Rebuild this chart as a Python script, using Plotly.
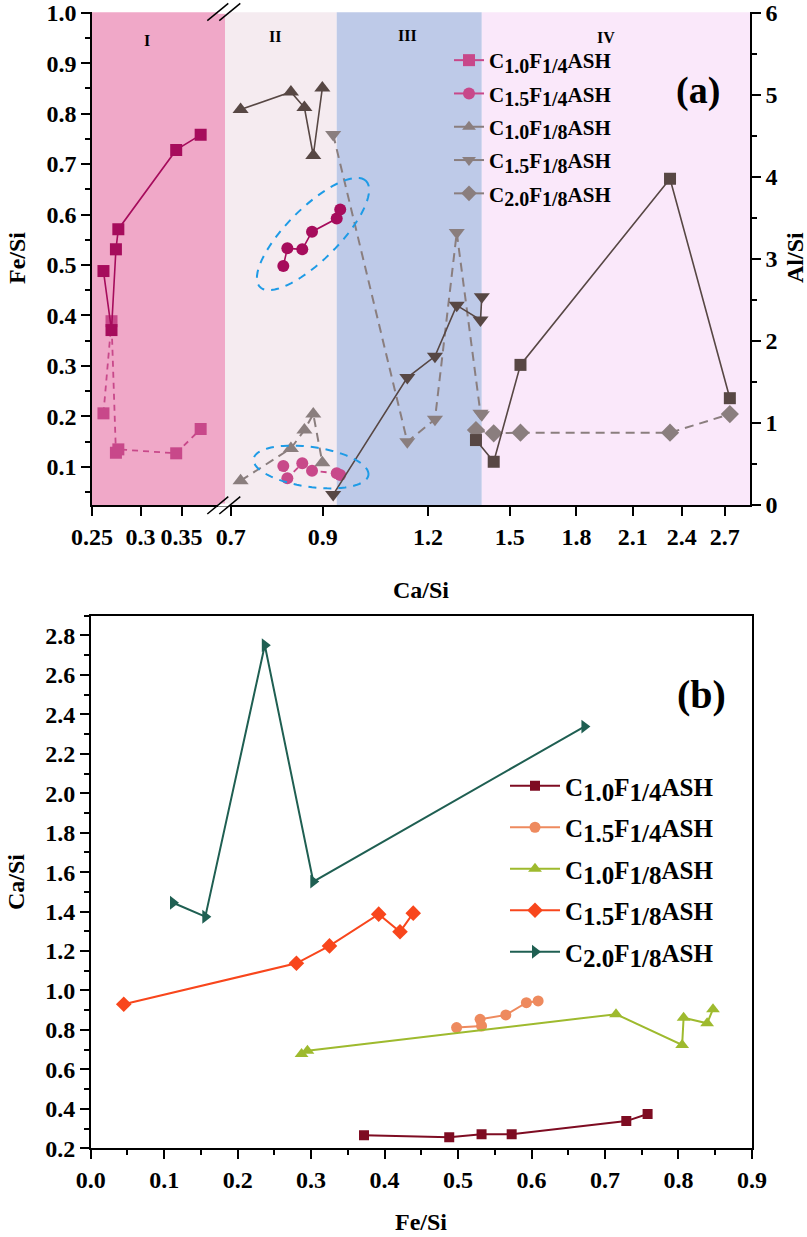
import numpy as np
import plotly.graph_objects as go

W, H = 807, 1237
def px(x): return x / W
def py(y): return 1 - y / H

# ---------------- Panel (a) data: x = Ca/Si, left y = Fe/Si, right y = Al/Si
ca_a1 = [0.261, 0.269, 0.2735, 0.276, 0.343, 0.376]          # C1.0F1/4ASH
fe_a1 = [0.488, 0.371, 0.531, 0.571, 0.728, 0.758]
al_a1 = [1.117, 2.24, 0.637, 0.678, 0.630, 0.926]

ca_a2 = [0.808, 0.817, 0.851, 0.874, 0.935, 0.944]           # C1.5F1/4ASH
fe_a2 = [0.498, 0.533, 0.531, 0.566, 0.592, 0.610]
al_a2 = [0.475, 0.325, 0.508, 0.418, 0.386, 0.365]

ca_a3 = [0.719, 0.825, 0.856, 0.877, 0.899]                  # C1.0F1/8ASH
fe_a3 = [0.808, 0.843, 0.812, 0.717, 0.851]
al_a3 = [0.296, 0.690, 0.913, 1.108, 0.515]

ca_a4 = [0.926, 1.134, 1.223, 1.298, 1.385, 1.390]           # C1.5F1/8ASH
fe_a4 = [0.045, 0.277, 0.319, 0.420, 0.391, 0.437]
al_a4 = [4.515, 0.771, 1.044, 3.320, 1.117, 1.100]

ca_a5 = [1.368, 1.436, 1.545, 2.325, 2.738]                  # C2.0F1/8ASH
fe_a5 = [0.153, 0.110, 0.302, 0.671, 0.236]
al_a5 = [0.913, 0.873, 0.881, 0.881, 1.108]

# ---------------- Panel (b) data: x = Fe/Si, y = Ca/Si
fe_b1 = [0.372, 0.488, 0.532, 0.573, 0.729, 0.758]
ca_b1 = [0.266, 0.256, 0.271, 0.271, 0.338, 0.374]
fe_b2 = [0.498, 0.532, 0.530, 0.565, 0.593, 0.609]
ca_b2 = [0.812, 0.820, 0.854, 0.876, 0.938, 0.947]
fe_b3 = [0.287, 0.295, 0.715, 0.805, 0.807, 0.839, 0.847]
ca_b3 = [0.678, 0.695, 0.880, 0.724, 0.862, 0.834, 0.905]
fe_b4 = [0.045, 0.280, 0.325, 0.392, 0.421, 0.439]
ca_b4 = [0.930, 1.138, 1.226, 1.387, 1.298, 1.392]
fe_b5 = [0.112, 0.156, 0.237, 0.303, 0.672]
ca_b5 = [1.445, 1.374, 2.750, 1.552, 2.338]

series_c = ["1.0", "1.5", "1.0", "1.5", "2.0"]
series_f = ["1/4", "1/4", "1/8", "1/8", "1/8"]

seg1_ticks = [0.25, 0.3, 0.35]
seg2_ticks = [0.7, 0.9, 1.2, 1.5, 1.8, 2.1, 2.4, 2.7]
region_bounds = [0.689, 0.935, 1.39, 2.893]
region_labels = ["I", "II", "III", "IV"]

FONT = "Liberation Serif"
DARK_M = "#A60C5C"
LIGHT_M = "#C8488A"
DARK_G = "#574744"
LIGHT_G = "#8A7E7E"

def label(c, f, subsize):
    s = f"<span style='font-size:{subsize}px'>"
    return f"C<sub>{s}{c}</span></sub>F<sub>{s}{f}</span></sub>ASH"

fig = go.Figure()

def add_a(xax, ca, vals, yax, color, symbol, size, dash, width):
    fig.add_trace(go.Scatter(x=ca, y=vals, xaxis=xax, yaxis=yax, mode="lines+markers",
                             line=dict(color=color, width=width, dash=dash),
                             marker=dict(symbol=symbol, size=size, color=color),
                             showlegend=False, hoverinfo="skip"))

# Al/Si (base y, right) light dashed
add_a("x", ca_a1, al_a1, "y", LIGHT_M, "square", 12, "6px,5px", 1.8)
add_a("x2", ca_a2, al_a2, "y", LIGHT_M, "circle", 12, "6px,5px", 1.8)
add_a("x2", ca_a3, al_a3, "y", LIGHT_G, "triangle-up", 14, "9px,6px", 2)
add_a("x2", ca_a4, al_a4, "y", LIGHT_G, "triangle-down", 14, "9px,6px", 2)
add_a("x2", ca_a5, al_a5, "y", LIGHT_G, "diamond", 14, "9px,6px", 2)
# Fe/Si (overlay y2, left) dark solid
add_a("x", ca_a1, fe_a1, "y2", DARK_M, "square", 12, "solid", 1.6)
add_a("x2", ca_a2, fe_a2, "y2", DARK_M, "circle", 12, "solid", 1.6)
add_a("x2", ca_a3, fe_a3, "y2", DARK_G, "triangle-up", 14, "solid", 1.6)
add_a("x2", ca_a4, fe_a4, "y2", DARK_G, "triangle-down", 14, "solid", 1.6)
add_a("x2", ca_a5, fe_a5, "y2", DARK_G, "square", 12, "solid", 1.6)

# legend (a)
leg_cols = [LIGHT_M, LIGHT_M, LIGHT_G, LIGHT_G, LIGHT_G]
leg_syms = ["square", "circle", "triangle-up", "triangle-down", "diamond"]
for i, (c_, f_, c, s) in enumerate(zip(series_c, series_f, leg_cols, leg_syms)):
    fig.add_trace(go.Scatter(x=[None], y=[None], xaxis="x2", yaxis="y", mode="lines+markers",
                             name=label(c_, f_, 20), line=dict(color=c, width=2),
                             marker=dict(symbol=s, size=12, color=c), legend="legend",
                             legendgroup=f"a{i}"))

# ---------------- Panel (b)
b_cols = ["#7E0C22", "#EE8A5E", "#9EBA2E", "#F8461C", "#1F5F52"]
b_syms = ["square", "circle", "triangle-up", "diamond", "triangle-right"]
b_sizes = [10, 11, 12, 12, 12]
for i, (fx, cy, c_, f_, c, s, sz) in enumerate(zip([fe_b1, fe_b2, fe_b3, fe_b4, fe_b5],
                                                   [ca_b1, ca_b2, ca_b3, ca_b4, ca_b5],
                                                   series_c, series_f, b_cols, b_syms, b_sizes)):
    fig.add_trace(go.Scatter(x=fx, y=cy, xaxis="x3", yaxis="y3", mode="lines+markers",
                             name=label(c_, f_, 25), legendgroup=f"b{i}",
                             line=dict(color=c, width=2), marker=dict(symbol=s, size=sz, color=c),
                             legend="legend2", hoverinfo="skip"))

tickfont = dict(family=FONT, size=24, color="black", weight="bold")
L = np.log10

common = dict(showgrid=False, zeroline=False, showline=True, linecolor="black", linewidth=1.5,
              ticks="outside", tickcolor="black", ticklen=9, tickwidth=1.5, tickfont=tickfont,
              automargin=False)
overlay_x = dict(showticklabels=False, showgrid=False, zeroline=False, showline=True, automargin=False,
                 linecolor="black", linewidth=1.5, ticks="inside", ticklen=8, tickwidth=1.5, tickcolor="black")

fig.update_layout(
    template="none",
    width=W, height=H, margin=dict(l=0, r=0, t=0, b=0, pad=0),
    paper_bgcolor="white", plot_bgcolor="rgba(0,0,0,0)",
    xaxis=dict(domain=[px(92), px(225)], type="log", range=[L(0.25), L(0.412)],
               tickvals=seg1_ticks, ticktext=["0.25", "0.3", "0.35"], anchor="y2", **common),
    xaxis2=dict(domain=[px(225), px(750)], type="log", range=[L(0.689), L(2.893)],
                tickvals=seg2_ticks, ticktext=[f"{v:.1f}" for v in seg2_ticks], anchor="y", **common),
    xaxis4=dict(overlaying="x", side="top", anchor="y2", type="log", range=[L(0.25), L(0.412)],
                tickvals=seg1_ticks, **overlay_x),
    xaxis5=dict(overlaying="x2", side="top", anchor="y", type="log", range=[L(0.689), L(2.893)],
                tickvals=seg2_ticks, **overlay_x),
    yaxis=dict(domain=[py(505), py(12.3)], range=[0, 6.005], side="right", anchor="x2",
               tickvals=[0, 1, 2, 3, 4, 5, 6],
               minor=dict(tickvals=[0.5, 1.5, 2.5, 3.5, 4.5, 5.5], ticks="outside", ticklen=5, tickcolor="black"),
               **common),
    yaxis2=dict(overlaying="y", side="left", anchor="x", range=[0.0243, 1.0008],
                tickvals=[0.1, 0.2, 0.3, 0.4, 0.5, 0.6, 0.7, 0.8, 0.9, 1.0],
                ticktext=["0.1", "0.2", "0.3", "0.4", "0.5", "0.6", "0.7", "0.8", "0.9", "1.0"],
                minor=dict(tickvals=[0.05, 0.15, 0.25, 0.35, 0.45, 0.55, 0.65, 0.75, 0.85, 0.95],
                           ticks="outside", ticklen=5, tickcolor="black"),
                **common),
    xaxis3=dict(domain=[px(90.7), px(752.3)], range=[0, 0.9005], dtick=0.1, tickformat=".1f", anchor="y3",
                mirror=True, minor=dict(dtick=0.05, ticks="outside", ticklen=5, tickcolor="black"), **common),
    yaxis3=dict(domain=[py(1148.3), py(615.7)], range=[0.2, 2.9], tick0=0.2, dtick=0.2, tickformat=".1f",
                anchor="x3", mirror=True,
                minor=dict(dtick=0.1, ticks="outside", ticklen=5, tickcolor="black"), **common),
    legend=dict(x=px(449), y=py(40), xanchor="left", yanchor="top", bgcolor="rgba(0,0,0,0)",
                font=dict(family=FONT, size=21, color="black", weight="bold"), tracegroupgap=3,
                itemwidth=30),
    legend2=dict(x=px(505), y=py(763), xanchor="left", yanchor="top", bgcolor="rgba(0,0,0,0)",
                 font=dict(family=FONT, size=25, color="black", weight="bold"), tracegroupgap=6,
                 itemwidth=50),
)

shapes = []
# background regions
shapes.append(dict(type="rect", xref="x domain", yref="paper", x0=0, x1=1, y0=py(505), y1=py(12.3),
                   fillcolor="#F0A8C8", line_width=0, layer="below"))
reg_cols = ["#F5EBF0", "#BECAE8", "#FAE8FA"]
for i, c in enumerate(reg_cols):
    shapes.append(dict(type="rect", xref="x2", yref="paper", x0=region_bounds[i], x1=region_bounds[i + 1],
                       y0=py(505), y1=py(12.3), fillcolor=c, line_width=0, layer="below"))

# ellipses (decorations)
def ellipse(cx, cy, a, b, ang, n=72):
    t = np.linspace(0, 2 * np.pi, n)
    th = np.deg2rad(ang)
    xs = cx + a * np.cos(t) * np.cos(th) - b * np.sin(t) * np.sin(th)
    ys = cy - (a * np.cos(t) * np.sin(th) + b * np.sin(t) * np.cos(th))
    pts = [f"{px(x):.5f},{py(y):.5f}" for x, y in zip(xs, ys)]
    return "M " + " L ".join(pts) + " Z"

for (cx, cy, a, b, ang) in [(313, 234, 75, 26, 45), (311, 467, 58, 20, -8)]:
    shapes.append(dict(type="path", xref="paper", yref="paper", path=ellipse(cx, cy, a, b, ang),
                       line=dict(color="#1E9BE6", width=2, dash="8px,7px")))

# axis break marks
for ya, yb, yl in [(20.7, 3.3, 12.3), (514, 496.7, 505)]:
    shapes.append(dict(type="rect", xref="paper", yref="paper", x0=px(218), x1=px(230),
                       y0=py(yl + 1.5), y1=py(yl - 1.5), fillcolor="white", line_width=0))
    for x0 in (207.3, 219.3):
        shapes.append(dict(type="line", xref="paper", yref="paper", x0=px(x0), y0=py(ya),
                           x1=px(x0 + 21), y1=py(yb), line=dict(color="black", width=1.5)))
fig.update_layout(shapes=shapes)

ann = []
def text(x, y, s, size, angle=0):
    ann.append(dict(x=px(x), y=py(y), xref="paper", yref="paper", text=s, showarrow=False,
                    textangle=angle, font=dict(family=FONT, size=size, color="black", weight="bold"),
                    xanchor="center", yanchor="middle"))

xs_reg = [147, 275, 408, 606]
ys_reg = [40, 37, 35, 38]
for lab, xr, yr in zip(region_labels, xs_reg, ys_reg):
    text(xr, yr, lab, 16)
text(698, 90, "(a)", 38)
text(701, 694, "(b)", 40)
text(17, 258, "Fe/Si", 24, -90)
text(795, 258, "Al/Si", 24, -90)
text(421, 590, "Ca/Si", 24)
text(421, 1222, "Fe/Si", 24)
text(16, 882, "Ca/Si", 24, -90)
fig.update_layout(annotations=ann)

fig.write_html("out.html", config={"displayModeBar": False},
               post_script="document.body.style.margin='0px';document.body.style.overflow='hidden';")
